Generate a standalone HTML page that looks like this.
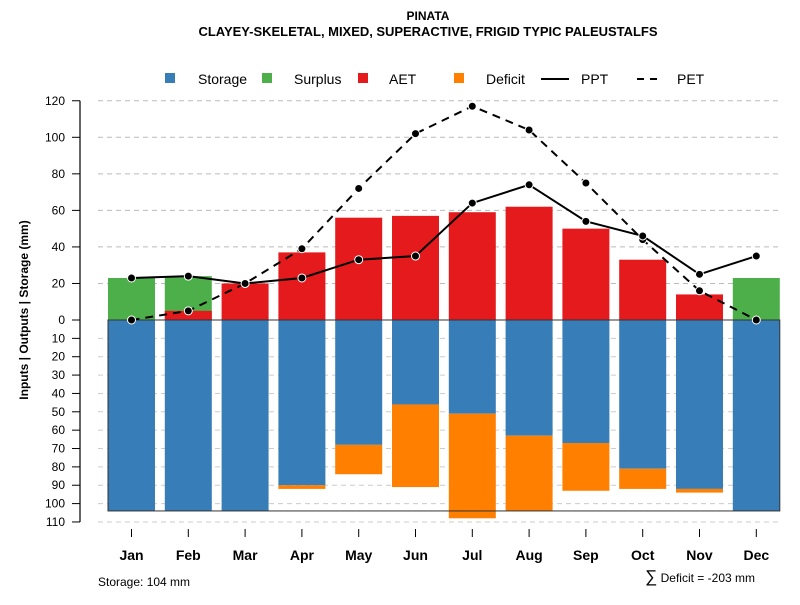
<!DOCTYPE html>
<html><head><meta charset="utf-8"><style>body{margin:0;background:#fff}svg{font-family:"Liberation Sans",sans-serif}</style></head>
<body>
<svg id="c" width="800" height="600" xmlns="http://www.w3.org/2000/svg">
<text x="428" y="20" text-anchor="middle" font-size="12" font-weight="bold">PINATA</text>
<text x="428" y="36" text-anchor="middle" font-size="13" font-weight="bold" textLength="459">CLAYEY-SKELETAL, MIXED, SUPERACTIVE, FRIGID TYPIC PALEUSTALFS</text>
<g font-size="14">
<rect x="165" y="73" width="10" height="10" fill="#377EB8"/><text x="198" y="84">Storage</text>
<rect x="262" y="73" width="10" height="10" fill="#4DAF4A"/><text x="294" y="84">Surplus</text>
<rect x="358" y="73" width="10" height="10" fill="#E41A1C"/><text x="389" y="84">AET</text>
<rect x="454" y="73" width="10" height="10" fill="#FF7F00"/><text x="486" y="84">Deficit</text>
<line x1="541" y1="79" x2="569" y2="79" stroke="#000" stroke-width="2"/><text x="581" y="84">PPT</text>
<line x1="637" y1="79" x2="662" y2="79" stroke="#000" stroke-width="2" stroke-dasharray="7,6"/><text x="677" y="84">PET</text>
</g>
<g id="plot"></g>
<text x="98" y="586" font-size="12">Storage: 104 mm</text>
<text x="755" y="582" text-anchor="end" font-size="12"><tspan font-size="17">∑</tspan> Deficit = -203 mm</text>
<text transform="translate(28,310) rotate(-90)" text-anchor="middle" font-size="12" font-weight="bold">Inputs | Outputs | Storage    (mm)</text>
</svg>
<script>
const months=["Jan","Feb","Mar","Apr","May","Jun","Jul","Aug","Sep","Oct","Nov","Dec"];
const storage=[104,104,104,90,68,46,51,63,67,81,92,104];
const deficit=[0,0,0,2,16,45,57,41,26,11,2,0];
const surplus=[23,24,0,0,0,0,0,0,0,0,0,23];
const aet=[0,5,20,37,56,57,59,62,50,33,14,0];
const ppt=[23,24,20,23,33,35,64,74,54,46,25,35];
const pet=[0,5,20,39,72,102,117,104,75,44,16,0];
const upTicks=[0,20,40,60,80,100,120];
const downTicks=[10,20,30,40,50,60,70,80,90,100,110];
const NS="http://www.w3.org/2000/svg";
const g=document.getElementById('plot');
const y0=320, kU=1.827, kD=1.836;
const yU=v=>y0-v*kU, yD=v=>y0+v*kD;
const xc=i=>131.5+i*56.8, bw=47;
function mk(t,a){const e=document.createElementNS(NS,t);for(const k in a)e.setAttribute(k,a[k]);g.appendChild(e);return e;}
upTicks.forEach(v=>{if(v>0){const l=mk('line',{x1:98,x2:782,y1:yU(v),y2:yU(v),stroke:'#bbb','stroke-dasharray':'5,4'});}});
downTicks.forEach(v=>{const l=mk('line',{x1:98,x2:782,y1:yD(v),y2:yD(v),stroke:'#ccc','stroke-dasharray':'5,4'});});
months.forEach((m,i)=>{
 const x=xc(i)-bw/2;
 let r;
 if(surplus[i]>0){r=mk('rect',{x:x,y:yU(surplus[i]),width:bw,height:surplus[i]*kU,fill:'#4DAF4A'});}
 if(aet[i]>0){r=mk('rect',{x:x,y:yU(aet[i]),width:bw,height:aet[i]*kU,fill:'#E41A1C'});}
 r=mk('rect',{x:x,y:y0,width:bw,height:storage[i]*kD,fill:'#377EB8'});
 if(deficit[i]>0){r=mk('rect',{x:x,y:yD(storage[i]),width:bw,height:deficit[i]*kD,fill:'#FF7F00'});}
 let t=mk('line',{x1:xc(i),x2:xc(i),y1:529,y2:537,stroke:'#000'});
 t=mk('text',{x:xc(i),y:560,'text-anchor':'middle','font-size':14,'font-weight':'bold'});t.textContent=m;
});
let b=mk('rect',{x:xc(0)-bw/2,y:y0,width:xc(11)+bw/2-(xc(0)-bw/2),height:104*kD,fill:'none',stroke:'#333','stroke-width':1});

let ax=mk('line',{x1:80,x2:80,y1:yU(120),y2:yD(110),stroke:'#666','stroke-width':2});
function tick(y,v){let l=mk('line',{x1:72,x2:80,y1:y,y2:y,stroke:'#000'});
 let t=mk('text',{x:65,y:y+4,'text-anchor':'end','font-size':12});t.textContent=v;}
upTicks.forEach(v=>tick(yU(v),v));downTicks.forEach(v=>tick(yD(v),v));
function line(arr,dash,name){
 const d=arr.map((v,i)=>(i?'L':'M')+xc(i)+','+yU(v)).join(' ');
 const p=mk('path',{d:d,fill:'none',stroke:'#000','stroke-width':2,'stroke-dasharray':dash});
 arr.forEach((v,i)=>{const c=mk('circle',{cx:xc(i),cy:yU(v),r:4,fill:'#000',stroke:'#fff','stroke-width':1});});
}
line(pet,'8,6','pet-line');
line(ppt,'none','ppt-line');
</script>
</body></html>
